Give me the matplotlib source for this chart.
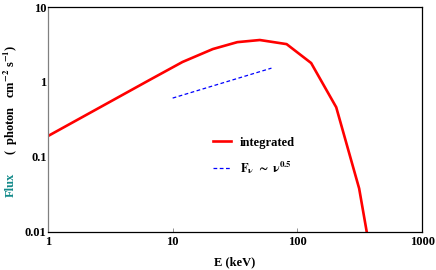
import matplotlib
matplotlib.use("Agg")
import matplotlib.pyplot as plt

plt.rcParams["font.family"] = "Liberation Serif"
plt.rcParams["font.weight"] = "bold"
plt.rcParams["mathtext.fontset"] = "stix"
plt.rcParams["mathtext.default"] = "bf"

# integrated spectrum
energy = [1, 6.5, 12, 21, 33, 50, 82, 129, 205, 313, 380]
flux = [0.19, 1.06, 1.85, 2.75, 3.4, 3.63, 3.2, 1.79, 0.46, 0.038, 0.006]

# power-law guide F ~ nu^0.5
pl_energy = [10, 62]
pl_flux = [0.61, 1.53]

fig = plt.figure(figsize=(4.36, 2.70), dpi=100)
ax = fig.add_axes([0.110, 0.141, 0.858, 0.833])

ax.plot(energy, flux, color="red", lw=1.9, label="integrated")
ax.plot(pl_energy, pl_flux, color="blue", lw=0.9, ls=(0, (3, 2)),
        label=r"$F_{\nu}\ \sim\ \nu^{0.5}$")

ax.set_xscale("log")
ax.set_yscale("log")
ax.set_xlim(1, 1000)
ax.set_ylim(0.01, 10)
ax.set_xticks([1, 10, 100, 1000])
ax.set_xticklabels(["1", "10", "100", "1000"])
ax.set_yticks([0.01, 0.1, 1, 10])
ax.set_yticklabels(["0.01", "0.1", "1", "10"])
ax.minorticks_off()
ax.tick_params(axis="x", direction="in", length=3, width=0.6, color="gray",
               labelsize=9, pad=3)
ax.tick_params(axis="y", length=0, labelsize=9, pad=1)
for lab in ax.get_xticklabels() + ax.get_yticklabels():
    lab.set_fontweight("bold")

for side in ["top", "right", "bottom"]:
    ax.spines[side].set_color("black")
    ax.spines[side].set_linewidth(0.9)
ax.spines["left"].set_color("gray")
ax.spines["left"].set_linewidth(0.9)

ax.set_xlabel("E (keV)", fontsize=9, fontweight="bold", labelpad=6)

# y label: "Flux" in teal, units in black
fig.text(0.025, 0.315, "Flux", rotation=90, color="#138a8a", fontsize=9,
         fontweight="bold", ha="center", va="center")
fig.text(0.025, 0.63, r"(  photon   cm$^{-2}$ s$^{-1}$)", rotation=90,
         color="black", fontsize=9, fontweight="bold", ha="center", va="center")

ax.legend(loc="center left", bbox_to_anchor=(0.44, 0.335), frameon=False,
          borderpad=0, borderaxespad=0, handlelength=1.5, handletextpad=0.7,
          labelspacing=0.85, prop={"weight": "bold", "size": 9})

fig.savefig("out.png", dpi=100)
